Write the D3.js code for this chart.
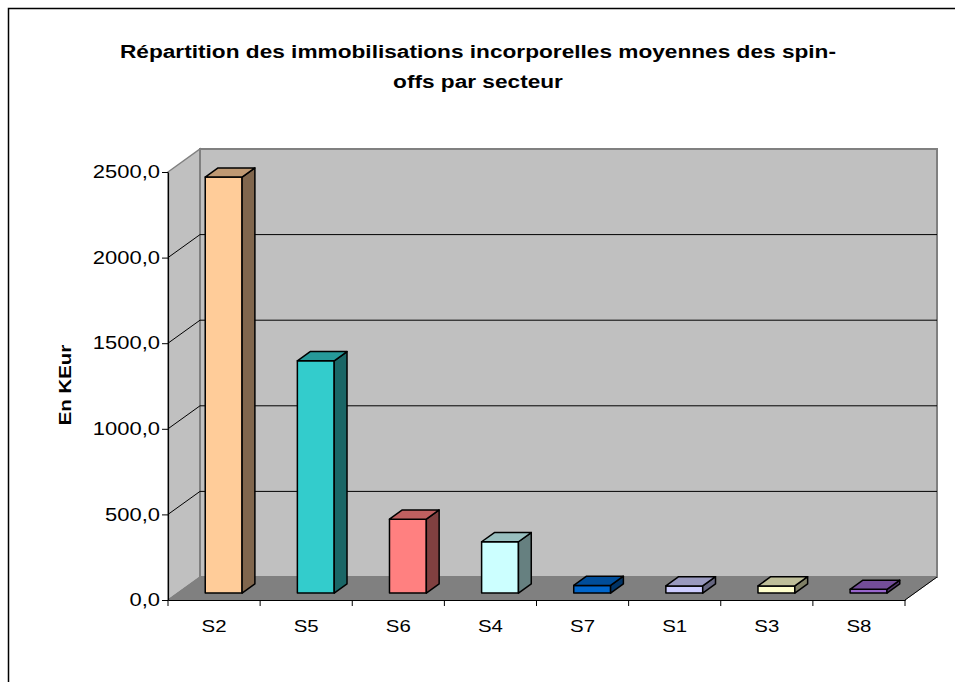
<!DOCTYPE html>
<html>
<head>
<meta charset="utf-8">
<script src="https://cdn.jsdelivr.net/npm/d3@7"></script>
<style>
  body { margin: 0; background: #fff; }
  text { font-family: Arial, "Liberation Sans", sans-serif; }
</style>
</head>
<body>
<script>
// donnees du graphique
var secteurs = ["S2", "S5", "S6", "S4", "S7", "S1", "S3", "S8"];
var valeurs = [2430, 1357, 432, 300, 45, 42, 42, 22];
var couleurs = ["#FFCC99", "#33CCCC", "#FF8080", "#CCFFFF", "#0066CC", "#CCCCFF", "#FFFFCC", "#9966CC"];
var ticksY = [0, 500, 1000, 1500, 2000, 2500];
var titreLignes = ["Répartition des immobilisations incorporelles moyennes des spin-", "offs par secteur"];
var titreY = "En KEur";

var width = 955, height = 682;

// cadre 3D
var x0 = 168, x1 = 905;
var prof = {dx: 32, dy: -23};

var svg = d3.select("body").append("svg")
    .attr("width", width)
    .attr("height", height);

var y = d3.scaleLinear().domain([0, 2500]).range([600, 172]);
var x = d3.scaleBand().domain(secteurs).range([x0, x1]);

// la police est un peu elargie dans l'original
function elargir(facteur) {
    return function(sel) {
        sel.each(function() {
            var l = this.getComputedTextLength();
            d3.select(this).attr("textLength", l * facteur).attr("lengthAdjust", "spacingAndGlyphs");
        });
    };
}

// bordure exterieure
svg.append("path")
    .attr("d", "M8.5," + height + " L8.5,8.5 L" + width + ",8.5")
    .attr("fill", "none")
    .attr("stroke", "#000")
    .attr("stroke-width", 1.5);

// titre
var titre = svg.append("g").selectAll("text")
    .data(titreLignes)
    .enter().append("text")
    .attr("x", 478)
    .attr("y", function(d, i) { return 58 + i * 29.5; })
    .attr("text-anchor", "middle")
    .style("font-size", "18px")
    .style("font-weight", "bold")
    .text(function(d) { return d; });
var facteurTitre = 716 / titre.node().getComputedTextLength();
titre.call(elargir(facteurTitre));

var yBas = y(0), yHaut = y(2500);

// mur gauche
svg.append("polygon")
    .attr("points", [[x0, yHaut], [x0 + prof.dx, yHaut + prof.dy], [x0 + prof.dx, yBas + prof.dy], [x0, yBas]].join(" "))
    .attr("fill", "#C0C0C0")
    .attr("stroke", "#808080")
    .attr("stroke-width", 1.5);

// mur du fond
svg.append("rect")
    .attr("x", x0 + prof.dx)
    .attr("y", yHaut + prof.dy)
    .attr("width", x1 - x0)
    .attr("height", yBas - yHaut)
    .attr("fill", "#C0C0C0")
    .attr("stroke", "#808080")
    .attr("stroke-width", 2);

// sol
svg.append("polygon")
    .attr("points", [[x0, yBas], [x0 + prof.dx, yBas + prof.dy], [x1 + prof.dx, yBas + prof.dy], [x1, yBas]].join(" "))
    .attr("fill", "#808080")
    .attr("stroke", "#808080")
    .attr("stroke-width", 1);

// quadrillage
var grille = ticksY.filter(function(t) { return t > 0 && t < 2500; });
svg.append("g").selectAll("line.fond")
    .data(grille)
    .enter().append("line")
    .attr("x1", x0 + prof.dx)
    .attr("x2", x1 + prof.dx)
    .attr("y1", function(d) { return y(d) + prof.dy; })
    .attr("y2", function(d) { return y(d) + prof.dy; })
    .attr("stroke", "#000")
    .attr("stroke-width", 1);
svg.append("g").selectAll("line.gauche")
    .data(grille)
    .enter().append("line")
    .attr("x1", x0)
    .attr("x2", x0 + prof.dx)
    .attr("y1", function(d) { return y(d); })
    .attr("y2", function(d) { return y(d) + prof.dy; })
    .attr("stroke", "#000")
    .attr("stroke-width", 1);

// barres 3D
var larg = x.bandwidth() * 0.4;
var f0 = 0.3, f1 = 0.7;
var bdx = (f1 - f0) * prof.dx, bdy = (f1 - f0) * prof.dy;

var barres = svg.append("g").selectAll("g")
    .data(secteurs)
    .enter().append("g");

barres.each(function(d, i) {
    var g = d3.select(this);
    var c = d3.color(couleurs[i]);
    var gx = x(d) + x.bandwidth() / 2 - larg / 2 + f0 * prof.dx;
    var gBas = yBas + f0 * prof.dy;
    var gHaut = y(valeurs[i]) + f0 * prof.dy;

    g.append("rect")
        .attr("x", gx).attr("y", gHaut)
        .attr("width", larg).attr("height", gBas - gHaut)
        .attr("fill", c.formatHex());
    // cote
    g.append("polygon")
        .attr("points", [[gx + larg, gHaut], [gx + larg + bdx, gHaut + bdy], [gx + larg + bdx, gBas + bdy], [gx + larg, gBas]].join(" "))
        .attr("fill", d3.rgb(c.r * 0.5, c.g * 0.5, c.b * 0.5).formatHex());
    // dessus
    g.append("polygon")
        .attr("points", [[gx, gHaut], [gx + bdx, gHaut + bdy], [gx + larg + bdx, gHaut + bdy], [gx + larg, gHaut]].join(" "))
        .attr("fill", d3.rgb(c.r * 0.75, c.g * 0.75, c.b * 0.75).formatHex());

    g.selectAll("rect, polygon")
        .attr("stroke", "#000")
        .attr("stroke-width", 1.5)
        .attr("stroke-linejoin", "round");
});

// axes
var axeY = svg.append("g").attr("transform", "translate(" + x0 + ",0)")
    .call(d3.axisLeft(y).tickValues(ticksY).tickSize(6).tickSizeOuter(0)
        .tickFormat(function(d) { return d3.format(".1f")(d).replace(".", ","); }));
axeY.select(".domain").attr("stroke", "#000").attr("stroke-width", 1.2);
axeY.selectAll("text")
    .style("font-size", "18px")
    .attr("fill", "#000")
    .attr("x", -8)
    .call(elargir(1.22));

var axeX = svg.append("g").attr("transform", "translate(0," + yBas + ")")
    .call(d3.axisBottom(x).tickSize(0).tickSizeOuter(0));
axeX.select(".domain").attr("stroke", "#000").attr("stroke-width", 1.2);
axeX.selectAll("text")
    .style("font-size", "17px")
    .attr("fill", "#000")
    .attr("y", 0)
    .attr("dy", "32px")
    .call(elargir(1.2));

// graduations entre les categories
var limites = secteurs.map(function(d) { return x(d); }).concat([x1]);
axeX.selectAll("line.limite")
    .data(limites)
    .enter().append("line")
    .attr("x1", function(d) { return d; })
    .attr("x2", function(d) { return d; })
    .attr("y1", 0)
    .attr("y2", 6)
    .attr("stroke", "#000");

// arete droite du sol
svg.append("line")
    .attr("x1", x1).attr("y1", yBas)
    .attr("x2", x1 + prof.dx).attr("y2", yBas + prof.dy)
    .attr("stroke", "#000").attr("stroke-width", 1);

// titre de l'axe Y
svg.append("text")
    .attr("transform", "translate(71,385) rotate(-90)")
    .attr("text-anchor", "middle")
    .style("font-size", "17px")
    .style("font-weight", "bold")
    .text(titreY)
    .call(elargir(1.2));
</script>
</body>
</html>
